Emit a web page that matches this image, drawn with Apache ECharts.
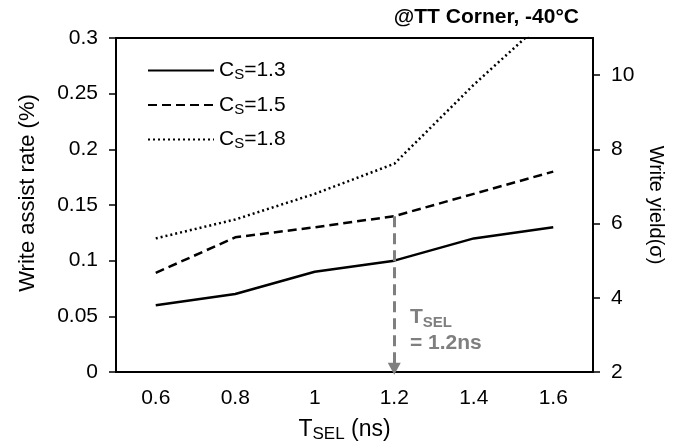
<!DOCTYPE html>
<html>
<head>
<meta charset="utf-8">
<script src="https://cdn.jsdelivr.net/npm/echarts@6/dist/echarts.min.js"></script>
<style>
  html, body { margin: 0; padding: 0; background: #fff; }
  #chart { width: 678px; height: 448px; }
</style>
</head>
<body>
<div id="chart"></div>
<script>
var tsel = ['0.6', '0.8', '1', '1.2', '1.4', '1.6'];
var cs13 = [0.06, 0.07, 0.09, 0.10, 0.12, 0.13];
var cs15 = [0.089, 0.121, 0.13, 0.14, 0.16, 0.18];
var cs18 = [0.12, 0.137, 0.16, 0.187, 0.258, 0.323];
var seriesNames = ['1.3', '1.5', '1.8'];
var leftTicks = { min: 0, max: 0.3, step: 0.05 };
var rightTicks = { min: 2, max: 11, step: 2 };
var rightTickValues = [2, 4, 6, 8, 10];

var font = 'Liberation Sans, Arial, sans-serif';
var chart = echarts.init(document.getElementById('chart'));

function lineSeries(name, data, type) {
    return {
        name: name,
        type: 'line',
        data: data,
        symbol: 'none',
        yAxisIndex: 0,
        lineStyle: { color: '#000', width: 2.5, type: type },
        itemStyle: { color: '#000' },
        silent: true
    };
}

var s15 = lineSeries(seriesNames[1], cs15, [9, 5]);
s15.markLine = {
    silent: true,
    symbol: ['none', 'triangle'],
    symbolSize: [13, 12],
    label: { show: false },
    lineStyle: { color: '#7f7f7f', width: 3, type: [11, 6] },
    data: [[{ coord: ['1.2', cs15[3]] }, { coord: ['1.2', 0.003] }]]
};

chart.setOption({
    animation: false,
    textStyle: { fontFamily: font },
    title: {
        text: '@TT Corner, -40°C',
        right: 94,
        top: 2,
        textStyle: { fontSize: 21, fontWeight: 'bold', color: '#000', fontFamily: font }
    },
    legend: {
        orient: 'vertical',
        left: 142,
        top: 55,
        itemWidth: 66,
        itemHeight: 20,
        itemGap: 12,
        data: seriesNames,
        itemStyle: { opacity: 0 },
        formatter: function (name) {
            return '{a|C}{s|S}{a|=' + name + '}';
        },
        textStyle: {
            color: '#000',
            rich: {
                a: { fontSize: 21, fontFamily: font, color: '#000' },
                s: { fontSize: 15, fontFamily: font, color: '#000', padding: [9, 0, 0, 0] }
            }
        }
    },
    grid: {
        left: 116,
        right: 85,
        top: 38,
        bottom: 73,
        show: true,
        borderColor: '#000',
        borderWidth: 2,
        backgroundColor: 'transparent'
    },
    xAxis: {
        type: 'category',
        data: tsel,
        boundaryGap: true,
        name: '{a|T}{s|SEL}{a| (ns)}',
        nameLocation: 'middle',
        nameGap: 44,
        nameTextStyle: {
            padding: [0, 20, 0, 0],
            rich: {
                a: { fontSize: 23, fontFamily: font, color: '#000' },
                s: { fontSize: 17, fontFamily: font, color: '#000', padding: [10, 0, 0, 0] }
            }
        },
        axisLine: { lineStyle: { color: '#000', width: 2 } },
        axisTick: { alignWithLabel: true, length: 6, lineStyle: { color: '#000', width: 1 } },
        axisLabel: { fontSize: 21, color: '#000', margin: 16 },
        splitLine: { show: false }
    },
    yAxis: [{
        type: 'value',
        min: leftTicks.min,
        max: leftTicks.max,
        interval: leftTicks.step,
        name: 'Write assist rate (%)',
        nameLocation: 'middle',
        nameGap: 77,
        nameTextStyle: { fontSize: 22, color: '#000', padding: [0, 0, 0, 24] },
        axisLine: { show: true, lineStyle: { color: '#000', width: 2 } },
        axisTick: { show: true, length: 7, lineStyle: { color: '#000', width: 1.5 } },
        axisLabel: { fontSize: 21, color: '#000', margin: 18 },
        splitLine: { show: false }
    }, {
        type: 'value',
        position: 'right',
        min: rightTicks.min,
        max: rightTicks.max,
        interval: rightTicks.step,
        name: 'Write yield(σ)',
        nameLocation: 'middle',
        nameRotate: -90,
        nameGap: 48,
        nameTextStyle: { fontSize: 20, color: '#000' },
        axisLine: { show: true, lineStyle: { color: '#000', width: 2 } },
        axisTick: { show: true, length: 7, customValues: rightTickValues, lineStyle: { color: '#000', width: 1.5 } },
        axisLabel: { fontSize: 21, color: '#000', margin: 18, customValues: rightTickValues },
        splitLine: { show: false }
    }],
    graphic: [{
        type: 'text',
        left: 410,
        top: 305,
        silent: true,
        style: {
            text: '{a|T}{s|SEL}\n{a|= 1.2ns}',
            rich: {
                a: { fontSize: 21, fontWeight: 'bold', fontFamily: font, fill: '#7f7f7f', lineHeight: 26 },
                s: { fontSize: 15, fontWeight: 'bold', fontFamily: font, fill: '#7f7f7f', padding: [10, 0, 0, 0], lineHeight: 26 }
            }
        }
    }],
    series: [
        lineSeries(seriesNames[0], cs13, 'solid'),
        s15,
        lineSeries(seriesNames[2], cs18, [2, 3])
    ]
});
</script>
</body>
</html>
